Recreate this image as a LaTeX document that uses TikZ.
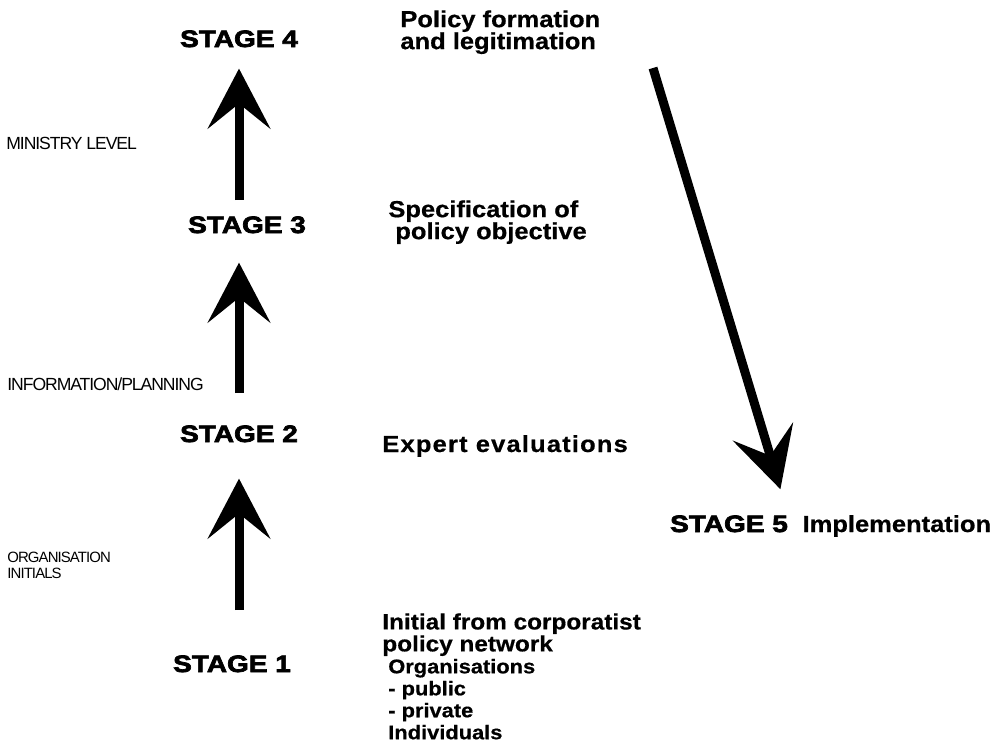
\documentclass[tikz,border=0pt]{standalone}
\usepackage{fontspec}
\setmainfont{Liberation Sans}
\newfontfamily\stageface[FakeStretch=1.18,FakeBold=3]{Liberation Sans}
\newfontfamily\labelface[FakeStretch=1.1,FakeBold=0.6]{Liberation Sans}
\newfontfamily\marginface[LetterSpace=-6]{Liberation Sans}
\usepackage{tikz}
\usetikzlibrary{arrows.meta, positioning, calc}
\newcommand{\subline}{\fontsize{11.3}{12.5}\selectfont\hspace*{0.3em}}

\begin{document}
\begin{tikzpicture}[
    >=Stealth,
    % Node Styles
    stage/.style={
        inner sep=0pt, anchor=base,
        font=\stageface\bfseries\fontsize{13.5}{16}\selectfont
    },
    descr/.style={
        inner sep=0pt, align=left,
        font=\labelface\bfseries\fontsize{13.2}{12.5}\selectfont
    },
    level/.style={
        inner sep=0pt, align=left, anchor=base west,
        font=\marginface\fontsize{10}{9}\selectfont
    },
    bigarrow/.style={-{Stealth[length=1.2cm, width=1.25cm, inset=0.5cm]}, line width=0.18cm}
]

\useasboundingbox (0,0) rectangle (19.98,-15.04);

% =================================================================
% STAGES
% =================================================================
\node[stage] (stageOne) at (4.64,-13.44) {STAGE 1};
\node[stage] (stageTwo) at (4.78,-8.84) {STAGE 2};
\node[stage] (stageThree) at (4.94,-4.66) {STAGE 3};
\node[stage] (stageFour) at (4.78,-0.94) {STAGE 4};
\node[stage] (stageFive) at (14.58,-10.64) {STAGE 5};

% --- Descriptions ---
\node[descr, right=0.28cm of stageFive.base east, anchor=base west] (implement) {Implementation};
\node[descr, anchor=north west] (policyForm) at (8.00,-0.20) {Policy formation\\and legitimation};
\node[descr, anchor=north west] (specObj) at (7.76,-4.00) {Specification of\\\hspace*{0.3em}policy objective};
\node[descr, anchor=base west, font=\labelface\bfseries\fontsize{13.2}{12.5}\selectfont\addfontfeatures{LetterSpace=5}] (expertEval) at (7.64,-9.04) {Expert evaluations};
\node[descr, anchor=north west, font=\labelface\bfseries\fontsize{12.6}{12.5}\selectfont] (initNet) at (7.64,-12.26)
    {Initial from corporatist\\policy network\\\subline Organisations\\\subline - public\\\subline - private\\\subline Individuals};

% --- Levels (left margin) ---
\node[level] (ministryLevel) at (0.12,-2.98) {MINISTRY LEVEL};
\node[level] (infoLevel) at (0.14,-7.80) {INFORMATION/PLANNING};
\node[level, anchor=north west, font=\marginface\fontsize{8.5}{9}\selectfont] (orgLevel) at (0.14,-11.04) {ORGANISATION\\INITIALS};

% =================================================================
% ARROWS
% =================================================================
\draw[bigarrow, shorten <=0.9cm, shorten >=0.72cm] (stageOne.north -| stageTwo.south) -- (stageTwo.south);
\draw[bigarrow, shorten <=0.64cm, shorten >=0.58cm] (stageTwo.north) -- (stageTwo.north |- stageThree.south);
\draw[bigarrow, shorten <=0.32cm, shorten >=0.42cm] (stageThree.north -| stageFour.south) -- (stageFour.south);

% Down to implementation
\coordinate (policyOut) at (13.06,-1.36);
\draw[bigarrow, shorten >=0.54cm] (policyOut) -- (stageFive.north east);

\end{tikzpicture}
\end{document}
